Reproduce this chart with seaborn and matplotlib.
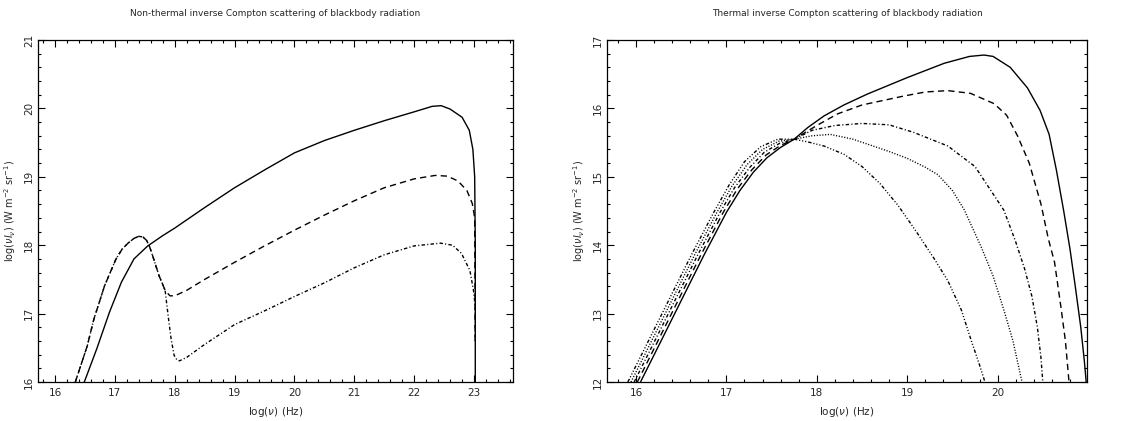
import matplotlib
matplotlib.use("Agg")
import matplotlib.pyplot as plt
import seaborn as sns
from matplotlib.ticker import MultipleLocator

# -------------------------------
# Non-thermal panel (left)
# -------------------------------
nt_solid_x = [16.49, 16.70, 16.91, 17.11, 17.32, 17.55, 17.80, 18.00, 18.50, 19.00, 19.50,
              20.00, 20.50, 21.00, 21.50, 22.00, 22.30, 22.45, 22.60, 22.80, 22.92, 22.98,
              23.01, 23.02, 23.02]
nt_solid_y = [16.00, 16.49, 17.02, 17.46, 17.80, 17.99, 18.14, 18.25, 18.55, 18.84, 19.10,
              19.35, 19.53, 19.68, 19.82, 19.95, 20.03, 20.04, 19.99, 19.87, 19.68, 19.40,
              19.00, 18.00, 16.00]

nt_dash_x = [16.34, 16.54, 16.65, 16.83, 17.02, 17.12, 17.22, 17.32, 17.40, 17.47, 17.53,
             17.58, 17.63, 17.74, 17.84, 17.92, 18.00, 18.20, 18.50, 19.00, 19.50, 20.00,
             20.50, 21.00, 21.50, 22.00, 22.35, 22.55, 22.73, 22.88, 22.97, 23.01, 23.02]
nt_dash_y = [16.00, 16.53, 16.92, 17.41, 17.80, 17.94, 18.03, 18.10, 18.13, 18.12, 18.07,
             17.98, 17.85, 17.55, 17.34, 17.26, 17.26, 17.34, 17.50, 17.75, 17.99, 18.22,
             18.44, 18.65, 18.84, 18.97, 19.02, 19.01, 18.94, 18.80, 18.61, 18.40, 16.58]

nt_dashdot_x = [16.34, 16.54, 16.65, 16.83, 17.02, 17.12, 17.22, 17.32, 17.40, 17.47, 17.53,
                17.58, 17.63, 17.74, 17.84, 17.89, 17.94, 17.99, 18.04, 18.08, 18.20, 18.50,
                19.00, 19.50, 20.00, 20.50, 21.00, 21.50, 22.00, 22.44, 22.64, 22.79, 22.93,
                22.99, 23.02, 23.02]
nt_dashdot_y = [16.00, 16.53, 16.92, 17.41, 17.80, 17.94, 18.03, 18.10, 18.13, 18.12, 18.07,
                17.98, 17.85, 17.55, 17.34, 16.97, 16.63, 16.39, 16.32, 16.31, 16.36, 16.55,
                16.84, 17.04, 17.25, 17.45, 17.67, 17.86, 17.99, 18.03, 18.00, 17.88, 17.63,
                17.34, 17.10, 16.58]

# -------------------------------
# Thermal panel (right)
# -------------------------------
th_solid_x = [16.05, 16.30, 16.50, 16.75, 17.00, 17.15, 17.30, 17.45, 17.60, 17.75, 17.90,
              18.08, 18.30, 18.56, 19.00, 19.41, 19.69, 19.85, 19.95, 20.14, 20.33, 20.47,
              20.57, 20.65, 20.73, 20.80, 20.86, 20.92, 20.96, 20.98]
th_solid_y = [12.00, 12.66, 13.19, 13.85, 14.48, 14.80, 15.07, 15.28, 15.43, 15.55, 15.72,
              15.89, 16.05, 16.21, 16.45, 16.66, 16.76, 16.78, 16.76, 16.60, 16.30, 15.97,
              15.62, 15.10, 14.51, 13.95, 13.39, 12.80, 12.30, 12.00]

th_dash_x = [16.015, 16.265, 16.465, 16.715, 16.965, 17.12, 17.28, 17.44, 17.60, 17.75, 18.00,
             18.23, 18.50, 18.96, 19.20, 19.45, 19.70, 19.96, 20.10, 20.22, 20.35, 20.48,
             20.56, 20.63, 20.70, 20.75, 20.79]
th_dash_y = [12.00, 12.66, 13.19, 13.85, 14.48, 14.82, 15.10, 15.32, 15.46, 15.55, 15.75,
             15.92, 16.05, 16.18, 16.24, 16.26, 16.22, 16.07, 15.90, 15.60, 15.20, 14.60,
             14.10, 13.75, 13.10, 12.60, 12.00]

th_dashdot_x = [15.98, 16.23, 16.43, 16.68, 16.93, 17.09, 17.26, 17.42, 17.59, 17.75, 17.95,
                18.20, 18.50, 18.80, 19.07, 19.45, 19.75, 20.07, 20.20, 20.30, 20.38, 20.44,
                20.48, 20.50]
th_dashdot_y = [12.00, 12.66, 13.19, 13.85, 14.48, 14.84, 15.14, 15.36, 15.49, 15.55, 15.68,
                15.75, 15.78, 15.76, 15.65, 15.45, 15.15, 14.51, 14.05, 13.65, 13.25, 12.80,
                12.35, 12.00]

th_dot_x = [15.945, 16.195, 16.395, 16.645, 16.895, 17.06, 17.23, 17.40, 17.58, 17.75, 17.95,
            18.15, 18.40, 18.60, 18.80, 19.00, 19.20, 19.34, 19.50, 19.63, 19.82, 19.95,
            20.07, 20.17, 20.27]
th_dot_y = [12.00, 12.66, 13.19, 13.85, 14.48, 14.86, 15.18, 15.40, 15.52, 15.55, 15.60,
            15.62, 15.55, 15.46, 15.37, 15.27, 15.14, 15.03, 14.80, 14.52, 13.97, 13.55,
            13.05, 12.60, 12.00]

th_dash3dot_x = [15.91, 16.16, 16.36, 16.61, 16.86, 17.03, 17.20, 17.38, 17.57, 17.75, 17.90,
                 18.08, 18.30, 18.50, 18.70, 18.90, 19.10, 19.30, 19.45, 19.60, 19.71, 19.80,
                 19.86]
th_dash3dot_y = [12.00, 12.66, 13.19, 13.85, 14.48, 14.88, 15.22, 15.44, 15.55, 15.55, 15.51,
                 15.45, 15.33, 15.15, 14.90, 14.58, 14.20, 13.80, 13.48, 13.05, 12.60, 12.25,
                 12.00]

# dash patterns
SOLID = (0, ())
DASHED = (0, (4.5, 3))
DASHDOT = (0, (2.5, 1.6, 0.8, 1.6))
DOTTED = (0, (0.8, 1.2))
DASH3DOT = (0, (2.5, 1.4, 0.8, 1.4, 0.8, 1.4, 0.8, 1.4))

sns.set_style("ticks")
plt.rcParams['font.family'] = ['DejaVu Sans']

fig = plt.figure(figsize=(11.4, 4.21), dpi=100)
ax1 = fig.add_axes([0.0333, 0.0926, 0.4167, 0.8124])
ax2 = fig.add_axes([0.5325, 0.0926, 0.4211, 0.8124])


def draw(ax, xs, ys, ls):
    sns.lineplot(x=xs, y=ys, sort=False, estimator=None, color="black",
                 linewidth=1.0, ax=ax)
    ax.lines[-1].set_linestyle(ls)


draw(ax1, nt_solid_x, nt_solid_y, SOLID)
draw(ax1, nt_dash_x, nt_dash_y, DASHED)
draw(ax1, nt_dashdot_x, nt_dashdot_y, DASHDOT)

draw(ax2, th_solid_x, th_solid_y, SOLID)
draw(ax2, th_dash_x, th_dash_y, DASHED)
draw(ax2, th_dashdot_x, th_dashdot_y, DASHDOT)
draw(ax2, th_dot_x, th_dot_y, DOTTED)
draw(ax2, th_dash3dot_x, th_dash3dot_y, DASH3DOT)

ax1.set_xlim(15.716, 23.65)
ax1.set_ylim(16, 21)
ax2.set_xlim(15.68, 20.99)
ax2.set_ylim(12, 17)

ax1.set_title("Non-thermal inverse Compton scattering of blackbody radiation",
              fontsize=6.5, pad=17)
ax2.set_title("Thermal inverse Compton scattering of blackbody radiation",
              fontsize=6.5, pad=17)

for ax in (ax1, ax2):
    ax.xaxis.set_major_locator(MultipleLocator(1))
    ax.xaxis.set_minor_locator(MultipleLocator(0.2))
    ax.yaxis.set_major_locator(MultipleLocator(1))
    ax.yaxis.set_minor_locator(MultipleLocator(0.2))
    ax.tick_params(which="both", direction="in", top=True, right=True,
                   color="black", width=0.8, labelsize=7.5)
    ax.tick_params(which="major", length=5)
    ax.tick_params(axis="x", which="major", pad=4)
    ax.tick_params(axis="y", which="major", pad=3)
    ax.tick_params(which="minor", length=2.5)
    for lab in ax.get_yticklabels():
        lab.set_rotation(90)
        lab.set_va("center")
    for sp in ax.spines.values():
        sp.set_linewidth(0.9)
        sp.set_color("black")
    ax.set_xlabel(r"log($\nu$) (Hz)", fontsize=7.5, labelpad=5)
    ax.set_ylabel(r"log($\nu I_{\nu}$) (W m$^{-2}$ sr$^{-1}$)", fontsize=7)
    ax.set_facecolor("white")

ax1.yaxis.set_label_coords(-0.043, 0.5)
ax2.yaxis.set_label_coords(-0.042, 0.5)

fig.savefig("out.png", dpi=100, facecolor="white")
